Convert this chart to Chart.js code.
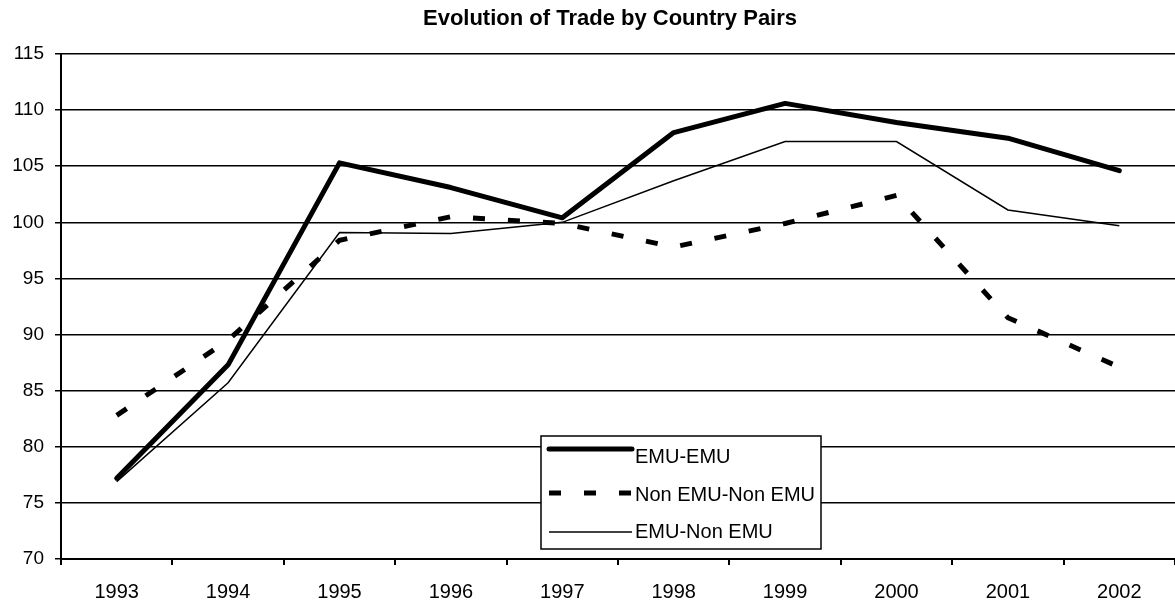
<!DOCTYPE html>
<html lang="en">
<head>
  <meta charset="UTF-8" />
  <title>Evolution of Trade by Country Pairs</title>
  <script src="https://cdn.jsdelivr.net/npm/chart.js"></script>
  <style>
    body {
      margin: 0;
      background: #fff;
    }
    #wrap {
      width: 1175px;
      height: 605px;
    }
  </style>
</head>
<body>
  <div id="wrap"><canvas id="grafico" width="1175" height="605"></canvas></div>

  <script>
    const titulo = "Evolution of Trade by Country Pairs";
    const anos = ["1993", "1994", "1995", "1996", "1997", "1998", "1999", "2000", "2001", "2002"];
    const emuEmu = [77.2, 87.3, 105.3, 103.1, 100.4, 108.0, 110.6, 108.9, 107.5, 104.6];
    const nonNon = [82.8, 89.5, 98.4, 100.5, 99.9, 97.8, 99.9, 102.4, 91.5, 87.1];
    const emuNon = [76.9, 85.7, 99.1, 99.0, 100.0, 103.7, 107.2, 107.2, 101.1, 99.7];

    const fuente = "Arial, 'Liberation Sans', sans-serif";

    // titulo y leyenda dibujados a mano (la leyenda va dentro del area)
    const extras = {
      id: "extras",
      afterDraw(chart) {
        const ctx = chart.ctx;
        ctx.save();
        ctx.fillStyle = "#000";
        ctx.font = "bold 22px " + fuente;
        ctx.textAlign = "center";
        ctx.textBaseline = "alphabetic";
        ctx.fillText(titulo, 610, 25);

        // caja de leyenda
        const x0 = 541, y0 = 436, w = 280, h = 113;
        ctx.fillStyle = "#fff";
        ctx.fillRect(x0, y0, w, h);
        ctx.strokeStyle = "#000";
        ctx.lineWidth = 1.5;
        ctx.strokeRect(x0, y0, w, h);

        const filas = [449, 493, 532];
        const textos = [457, 495, 532];
        chart.data.datasets.forEach((ds, i) => {
          const y = filas[i];
          ctx.beginPath();
          ctx.lineWidth = ds.borderWidth;
          ctx.setLineDash(ds.borderDash || []);
          ctx.lineCap = ds.borderCapStyle || "butt";
          ctx.moveTo(549, y);
          ctx.lineTo(632, y);
          ctx.stroke();
          ctx.setLineDash([]);
          ctx.fillStyle = "#000";
          ctx.font = "20px " + fuente;
          ctx.textAlign = "left";
          ctx.textBaseline = "middle";
          ctx.fillText(ds.label, 635, textos[i]);
        });
        ctx.restore();
      }
    };

    new Chart(document.getElementById("grafico"), {
      type: "line",
      data: {
        labels: anos,
        datasets: [
          {
            label: "EMU-EMU",
            data: emuEmu,
            borderColor: "#000",
            borderWidth: 5,
            borderJoinStyle: "round",
            borderCapStyle: "round",
            pointRadius: 0,
            tension: 0,
            fill: false
          },
          {
            label: "Non EMU-Non EMU",
            data: nonNon,
            borderColor: "#000",
            borderWidth: 5,
            borderDash: [12, 23],
            borderCapStyle: "butt",
            pointRadius: 0,
            tension: 0,
            fill: false
          },
          {
            label: "EMU-Non EMU",
            data: emuNon,
            borderColor: "#000",
            borderWidth: 1.5,
            pointRadius: 0,
            tension: 0,
            fill: false
          }
        ]
      },
      options: {
        responsive: false,
        animation: false,
        layout: { padding: { top: 54, right: 0, bottom: 0, left: 0 } },
        plugins: {
          legend: { display: false },
          title: { display: false },
          tooltip: { enabled: false }
        },
        scales: {
          x: {
            offset: true,
            grid: {
              display: true,
              drawOnChartArea: false,
              drawTicks: true,
              tickLength: 6,
              color: "#000",
              lineWidth: 2,
              offset: true
            },
            border: { display: true, color: "#000", width: 2 },
            ticks: {
              color: "#000",
              font: { family: fuente, size: 20 },
              padding: 15,
              maxRotation: 0
            },
            afterFit(scale) { scale.height = 46; }
          },
          y: {
            min: 70,
            max: 115,
            grid: {
              color: "#000",
              lineWidth: 1.5,
              tickLength: 6
            },
            border: { display: true, color: "#000", width: 2 },
            ticks: {
              stepSize: 5,
              color: "#000",
              font: { family: fuente, size: 19 },
              padding: 11
            },
            afterFit(scale) { scale.width = 61; }
          }
        }
      },
      plugins: [extras]
    });
  </script>
</body>
</html>
